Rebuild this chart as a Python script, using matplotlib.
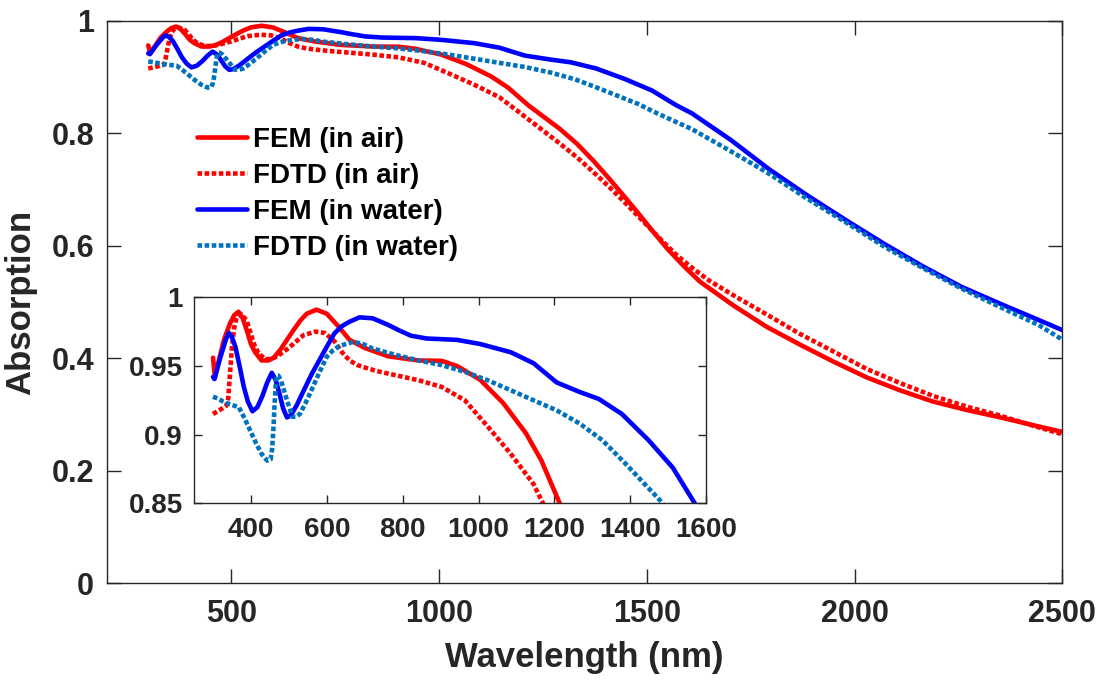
import numpy as np
import matplotlib.pyplot as plt

plt.rcParams['font.family'] = ['Liberation Sans', 'DejaVu Sans']
plt.rcParams['font.weight'] = 'bold'
plt.rcParams['axes.labelweight'] = 'bold'

# FEM, air
wl_fem_air = [300, 305, 312, 318, 330, 345, 356, 367, 378, 389, 400, 411, 428, 446, 460, 477, 495,
              512, 530, 547, 573, 600, 630, 660, 701, 762, 842, 903, 943, 1004, 1065, 1125, 1166,
              1214, 1250, 1290, 1332, 1370, 1406, 1443, 1480, 1515, 1550, 1590, 1628, 1708, 1788,
              1869, 1949, 2029, 2109, 2189, 2270, 2350, 2430, 2500]
abs_fem_air = [0.956, 0.942, 0.950, 0.957, 0.970, 0.981, 0.987, 0.9895, 0.985, 0.976, 0.966, 0.960,
               0.954, 0.954, 0.956, 0.9616, 0.969, 0.976, 0.983, 0.988, 0.991, 0.988, 0.979, 0.969,
               0.963, 0.957, 0.954, 0.9537, 0.950, 0.940, 0.923, 0.901, 0.881, 0.850, 0.830, 0.808,
               0.781, 0.752, 0.722, 0.690, 0.657, 0.625, 0.594, 0.563, 0.536, 0.494, 0.456, 0.424,
               0.394, 0.366, 0.343, 0.323, 0.308, 0.295, 0.281, 0.269]

# FDTD, air
wl_fdtd_air = [300, 318, 335, 340, 345, 350, 356, 362, 373, 388, 398, 408, 420, 438, 453, 469, 499,
               520, 539, 570, 595, 620, 640, 660, 681, 710, 741, 842, 903, 964, 1024, 1085, 1145,
               1170, 1239, 1290, 1332, 1380, 1424, 1460, 1498, 1535, 1572, 1610, 1650, 1708, 1788,
               1869, 1949, 2029, 2109, 2189, 2270, 2350, 2430, 2500]
abs_fdtd_air = [0.915, 0.918, 0.921, 0.926, 0.945, 0.964, 0.978, 0.985, 0.988, 0.9835, 0.975, 0.966,
                0.959, 0.955, 0.955, 0.957, 0.963, 0.968, 0.9725, 0.975, 0.974, 0.968, 0.960, 0.954,
                0.9506, 0.948, 0.9457, 0.9396, 0.9347, 0.925, 0.906, 0.886, 0.864, 0.850, 0.811,
                0.782, 0.757, 0.725, 0.694, 0.667, 0.638, 0.610, 0.583, 0.560, 0.538, 0.512, 0.478,
                0.443, 0.412, 0.381, 0.356, 0.333, 0.314, 0.298, 0.280, 0.265]

# FEM, water
wl_fem_water = [300, 304, 316, 328, 335, 342, 350, 359, 370, 381, 392, 404, 417, 430, 443, 455, 465,
                475, 485, 495, 505, 520, 539, 560, 580, 600, 620, 640, 660, 686, 721, 761, 790, 822,
                863, 943, 1004, 1085, 1145, 1206, 1267, 1317, 1378, 1448, 1512, 1570, 1609, 1702,
                1794, 1887, 1980, 2072, 2165, 2257, 2350, 2443, 2500]
abs_fem_water = [0.942, 0.9405, 0.953, 0.964, 0.970, 0.974, 0.971, 0.964, 0.950, 0.935, 0.924, 0.917,
                 0.920, 0.928, 0.938, 0.945, 0.940, 0.930, 0.919, 0.9125, 0.914, 0.921, 0.932, 0.944,
                 0.954, 0.964, 0.9737, 0.979, 0.9822, 0.9854, 0.9847, 0.980, 0.976, 0.972, 0.970,
                 0.969, 0.966, 0.960, 0.952, 0.938, 0.931, 0.926, 0.915, 0.896, 0.876, 0.850, 0.835,
                 0.788, 0.736, 0.689, 0.645, 0.603, 0.563, 0.527, 0.497, 0.468, 0.450]

# FDTD, water
wl_fdtd_water = [300, 315, 327, 345, 368, 383, 398, 413, 428, 443, 452, 456, 459, 462, 465, 468, 472,
                 479, 494, 509, 519, 529, 544, 559, 580, 600, 615, 630, 650, 670, 695, 721, 782, 842,
                 903, 964, 1024, 1085, 1145, 1206, 1267, 1327, 1388, 1438, 1479, 1517, 1609, 1702,
                 1794, 1887, 1980, 2072, 2165, 2257, 2350, 2443, 2500]
abs_fdtd_water = [0.9276, 0.926, 0.924, 0.922, 0.920, 0.912, 0.903, 0.894, 0.886, 0.881, 0.882, 0.890,
                  0.903, 0.920, 0.935, 0.943, 0.943, 0.9396, 0.926, 0.913, 0.913, 0.915, 0.923, 0.932,
                  0.945, 0.9567, 0.961, 0.964, 0.966, 0.9676, 0.966, 0.9627, 0.958, 0.954, 0.9506,
                  0.9457, 0.9396, 0.9323, 0.925, 0.9177, 0.908, 0.8958, 0.8787, 0.864, 0.852, 0.838,
                  0.807, 0.768, 0.728, 0.683, 0.641, 0.598, 0.560, 0.524, 0.491, 0.459, 0.433]

dot = (0, (1.0, 0.55))
series = [
    (wl_fem_air, abs_fem_air, 'FEM (in air)', '#ff0000', '-'),
    (wl_fdtd_air, abs_fdtd_air, 'FDTD (in air)', '#ff0000', dot),
    (wl_fem_water, abs_fem_water, 'FEM (in water)', '#0000ff', '-'),
    (wl_fdtd_water, abs_fdtd_water, 'FDTD (in water)', '#0072bd', dot),
]

gray = '#262626'
fig = plt.figure(figsize=(11, 6.8), dpi=100)
ax = fig.add_axes([0.097, 0.1422, 0.8688, 0.8274])
ins = fig.add_axes([0.1764, 0.2599, 0.4655, 0.3029])

for a in (ax, ins):
    for x, y, lab, c, ls in series:
        a.plot(x, y, color=c, linestyle=ls, linewidth=3.3, label=lab,
               dash_capstyle='butt', solid_capstyle='round', solid_joinstyle='round')
    for s in a.spines.values():
        s.set_color(gray)
        s.set_linewidth(1.0)

ax.set_xlim(200, 2500)
ax.set_ylim(0, 1)
ax.set_xticks([500, 1000, 1500, 2000, 2500])
ax.set_yticks([0, 0.2, 0.4, 0.6, 0.8, 1])
ax.set_yticklabels(['0', '0.2', '0.4', '0.6', '0.8', '1'])
ax.tick_params(direction='in', length=10, width=1, top=True, right=True,
               labelsize=22, colors=gray, labelcolor=gray)
ax.tick_params(axis='x', pad=11)
ax.tick_params(axis='y', pad=9)
ax.set_xlabel('Wavelength (nm)', fontsize=25, color=gray, labelpad=9)
ax.set_ylabel('Absorption', fontsize=25, color=gray, labelpad=10)

leg = ax.legend(loc='upper left', bbox_to_anchor=(0.0945, 0.8117), frameon=False, fontsize=20,
                handlelength=1.8, handletextpad=0.2, labelspacing=0.36, borderpad=0,
                borderaxespad=0)

ins.set_xlim(250, 1600)
ins.set_ylim(0.85, 1)
ins.set_xticks([400, 600, 800, 1000, 1200, 1400, 1600])
ins.set_yticks([0.85, 0.9, 0.95, 1])
ins.set_yticklabels(['0.85', '0.9', '0.95', '1'])
ins.tick_params(direction='in', length=6, width=1, top=True, right=True,
                labelsize=20, colors=gray, labelcolor=gray)
ins.tick_params(axis='x', pad=10)
ins.tick_params(axis='y', pad=8)

fig.savefig('out.png', dpi=100)
